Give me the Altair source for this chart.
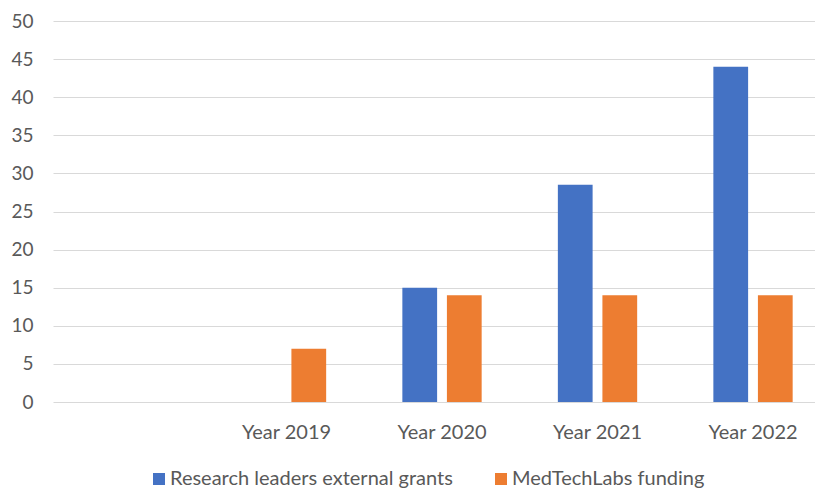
import altair as alt
import pandas as pd

categories = [" ", "Year 2019", "Year 2020", "Year 2021", "Year 2022"]
years = ["Year 2019", "Year 2020", "Year 2021", "Year 2022"]
series = ["Research leaders external grants", "MedTechLabs funding"]
research = [None, 15, 28.5, 44]
medtech = [7, 14, 14, 14]
colors = ["#4472C4", "#ED7D31"]
y_ticks = list(range(0, 55, 5))

rows = []
for y, r, m in zip(years, research, medtech):
    if r is not None:
        rows.append({"year": y, "series": series[0], "value": r})
    if m is not None:
        rows.append({"year": y, "series": series[1], "value": m})
df = pd.DataFrame(rows)

FONT = "Lato"
GREY = "#595959"

chart = alt.Chart(df).mark_bar().encode(
    x=alt.X("year:N", scale=alt.Scale(domain=categories,
                                     paddingInner=0.49, paddingOuter=0.19514, align=0.632),
            sort=categories,
            axis=alt.Axis(title=None, labelAngle=0, ticks=False, domain=False,
                          labelPadding=20, labelFontSize=20, labelColor=GREY,
                          labelFont=FONT, grid=False)),
    xOffset=alt.XOffset("series:N", sort=series,
                        scale=alt.Scale(domain=series, paddingInner=0.22)),
    y=alt.Y("value:Q", scale=alt.Scale(domain=[0, 50], nice=False),
            axis=alt.Axis(title=None, values=y_ticks, ticks=False, domain=False,
                          labelPadding=20, labelFontSize=19, labelColor=GREY,
                          labelFont=FONT, gridColor="#D9D9D9", gridWidth=1)),
    color=alt.Color("series:N", scale=alt.Scale(domain=series, range=colors),
                    sort=series,
                    legend=alt.Legend(title=None, orient="none", direction="horizontal",
                                      legendX=96, legendY=448, symbolType="square",
                                      symbolSize=144, symbolStrokeWidth=0, padding=0,
                                      labelFontSize=20, labelColor=GREY, labelFont=FONT,
                                      labelLimit=0, columnPadding=38, labelOffset=1)),
).properties(
    width=762, height=381,
    padding={"left": 2, "top": 4, "right": 0, "bottom": 0},
).configure_view(stroke=None)

chart.save("out.html", embed_options={"renderer": "svg", "actions": False})
